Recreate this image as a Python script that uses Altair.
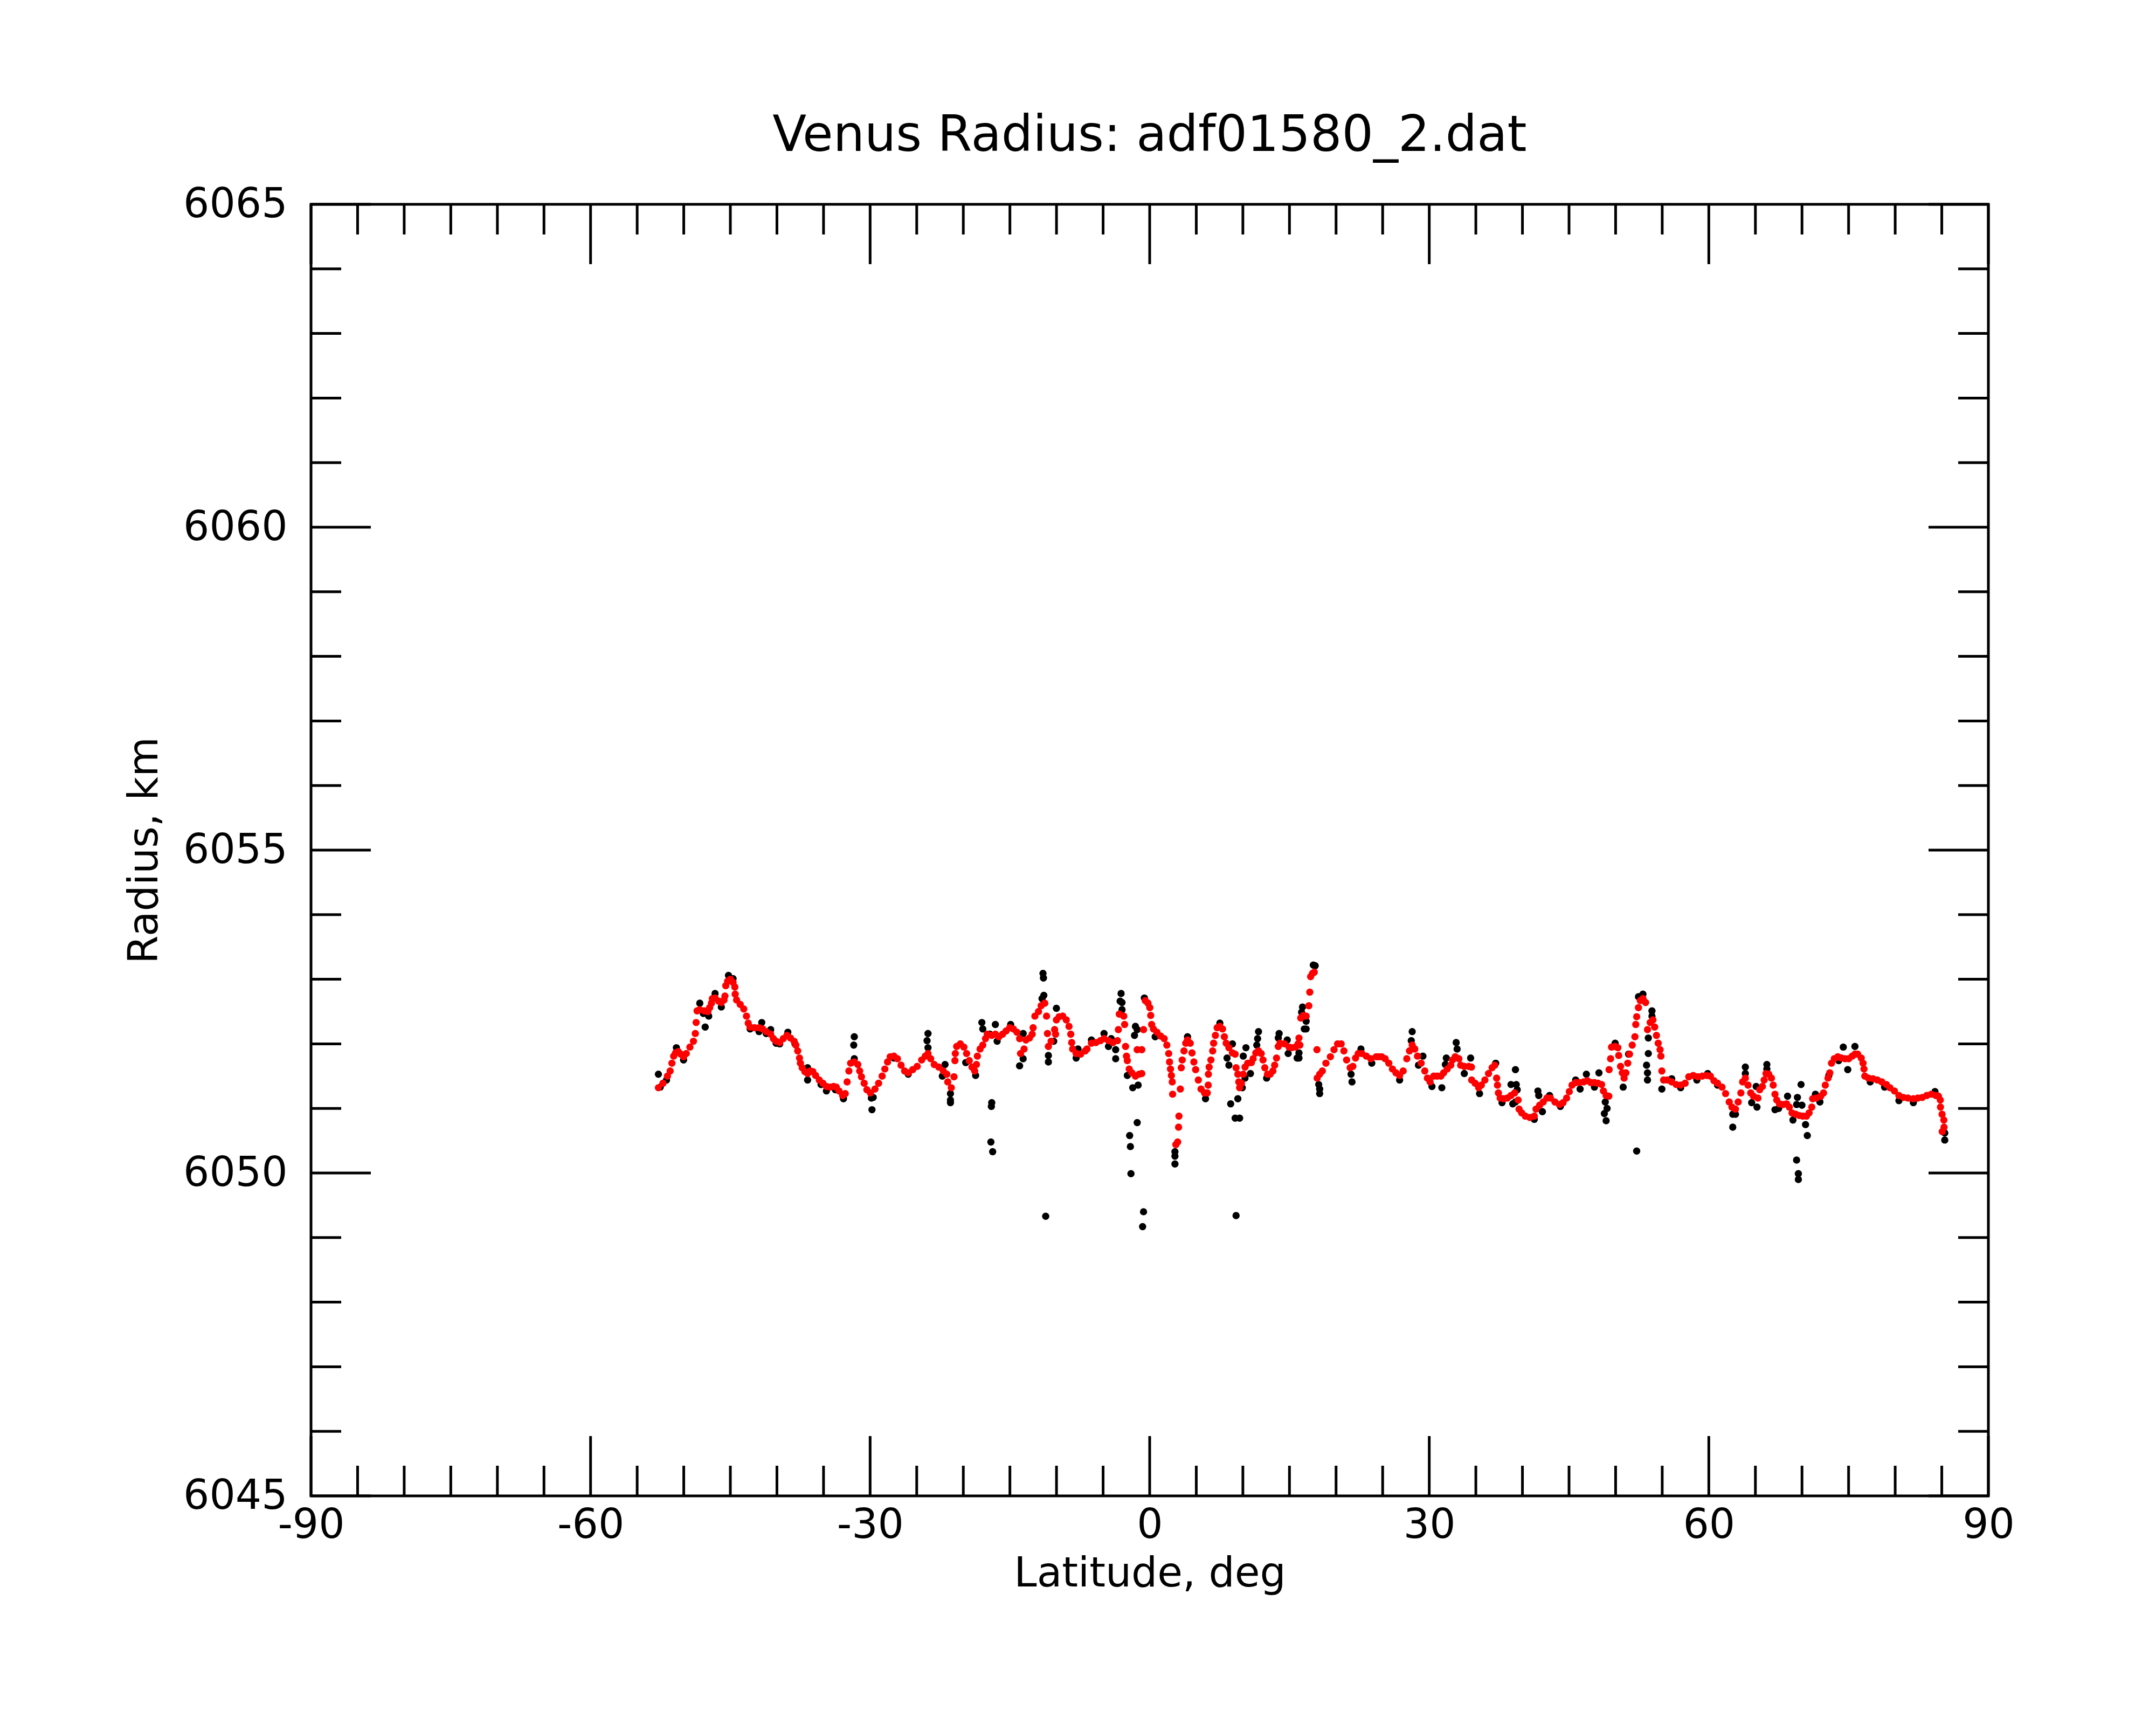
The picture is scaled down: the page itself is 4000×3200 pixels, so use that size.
import altair as alt
import pandas as pd

title_text = "Venus Radius: adf01580_2.dat"
x_title = "Latitude, deg"
y_title = "Radius, km"

x_major = [-90, -60, -30, 0, 30, 60, 90]
x_minor = [-85, -80, -75, -70, -65, -55, -50, -45, -40, -35, -25, -20, -15, -10, -5,
           5, 10, 15, 20, 25, 35, 40, 45, 50, 55, 65, 70, 75, 80, 85]
y_major = [6045, 6050, 6055, 6060, 6065]
y_minor = [6046, 6047, 6048, 6049, 6051, 6052, 6053, 6054, 6056, 6057, 6058, 6059,
           6061, 6062, 6063, 6064]

# fitted (red) radius samples, (latitude, radius)
red_s1 = [(-52.72,6051.32),(-52.23,6051.39),(-51.75,6051.50),(-51.46,6051.58),(-51.27,6051.70),(-51.08,6051.81),
          (-50.88,6051.86),(-50.59,6051.88),(-50.31,6051.84),(-50.02,6051.80),(-49.73,6051.85),(-49.34,6051.95),
          (-48.96,6052.04),(-48.76,6052.16),(-48.67,6052.33),(-48.57,6052.51),(-48.28,6052.53),(-47.80,6052.51),
          (-47.41,6052.50),(-47.22,6052.56),(-47.03,6052.63),(-46.93,6052.70),(-46.64,6052.71),(-46.26,6052.66),
          (-45.97,6052.64),(-45.68,6052.68),(-45.58,6052.74),(-45.49,6052.90),(-45.29,6052.97),(-45.00,6053.00),
          (-44.71,6052.95),(-44.52,6052.88),(-44.48,6052.77),(-44.33,6052.68),(-43.94,6052.61),(-43.56,6052.54),
          (-43.27,6052.43),(-43.08,6052.32),(-42.88,6052.26),(-42.40,6052.25),(-41.92,6052.25),(-41.53,6052.23),
          (-41.15,6052.19),(-40.67,6052.15),(-40.38,6052.08),(-40.09,6052.04),(-39.70,6052.02),(-39.32,6052.08),
          (-38.93,6052.13),(-38.55,6052.09),(-38.16,6052.04),(-37.97,6051.98),(-37.77,6051.89),(-37.58,6051.78),
          (-37.48,6051.70),(-37.29,6051.63),(-37.00,6051.57),(-36.71,6051.54),(-36.42,6051.58),(-36.14,6051.57),
          (-35.85,6051.51),(-35.46,6051.44),(-35.07,6051.39),(-34.69,6051.34),(-34.30,6051.33),(-33.92,6051.34),
          (-33.63,6051.33),(-33.34,6051.27),(-32.95,6051.20),(-32.67,6051.23),(-32.47,6051.41),(-32.28,6051.58),
          (-32.09,6051.70),(-31.70,6051.72),(-31.32,6051.68),(-31.12,6051.58),(-30.93,6051.49),(-30.64,6051.39),
          (-30.35,6051.29),(-29.97,6051.24)]
red_s2 = [(-29.48,6051.30),(-29.09,6051.39),(-28.71,6051.50),(-28.42,6051.61),(-28.13,6051.72),(-27.84,6051.80),
          (-27.45,6051.81),(-27.07,6051.77),(-26.68,6051.67),(-26.30,6051.58),(-25.91,6051.55),(-25.43,6051.60),
          (-24.95,6051.65),(-24.47,6051.75),(-24.08,6051.81),(-23.79,6051.85),(-23.50,6051.77),(-23.12,6051.68),
          (-22.63,6051.64),(-22.15,6051.58),(-21.77,6051.53),(-21.67,6051.41),(-21.29,6051.32),(-21.00,6051.49),
          (-20.90,6051.74),(-20.86,6051.85),(-20.71,6051.96),(-20.32,6052.00),(-19.94,6051.95),(-19.65,6051.85),
          (-19.36,6051.74),(-19.07,6051.64),(-18.78,6051.58),(-18.59,6051.68),(-18.49,6051.81),(-18.20,6051.92),
          (-17.91,6051.98),(-17.62,6052.08),(-17.43,6052.15),(-16.95,6052.13),(-16.56,6052.15),(-16.18,6052.11),
          (-15.79,6052.15),(-15.41,6052.20),(-15.02,6052.25),(-14.63,6052.23),(-14.25,6052.18),(-13.96,6052.08),
          (-13.86,6051.85),(-13.48,6051.92),(-13.28,6052.06),(-12.90,6052.09),(-12.61,6052.15),(-12.51,6052.25),
          (-12.32,6052.43),(-11.93,6052.50),(-11.65,6052.59),(-11.26,6052.63),(-11.07,6052.43),(-10.97,6052.16),
          (-10.87,6051.96),(-10.58,6052.04),(-10.20,6052.22),(-10.10,6052.15),(-10.01,6052.37),(-9.72,6052.42),
          (-9.33,6052.43),(-8.95,6052.37),(-8.66,6052.27),(-8.47,6052.15),(-8.37,6052.02),(-8.27,6051.92),
          (-7.89,6051.85),(-7.41,6051.84),(-6.92,6051.89)]
red_s3 = [(-6.73,6051.92),(-6.25,6052.01),(-5.77,6052.02),(-5.29,6052.05),(-4.90,6052.08),(-4.42,6052.05),
          (-3.94,6052.02),(-3.46,6052.05),(-3.36,6052.22),(-3.26,6052.46),(-2.78,6052.43),(-2.69,6052.30),
          (-2.59,6051.96),(-2.49,6051.81),(-2.40,6051.74),(-2.20,6051.61),(-1.91,6051.55),(-1.53,6051.50),
          (-1.14,6051.53),(-0.85,6051.54),(-1.34,6051.91),(-0.85,6051.91),(-0.66,6052.22),(-0.47,6052.67),
          (-0.18,6052.63),(0.01,6052.56),(0.11,6052.44),(0.21,6052.30),(0.40,6052.23),(0.78,6052.18),
          (1.17,6052.12),(1.56,6052.08),(1.84,6051.98),(2.04,6051.85),(2.13,6051.72),(2.23,6051.61),
          (2.33,6051.51),(2.42,6051.41),(2.46,6051.22),(2.81,6050.44),(3.00,6050.48),(3.10,6050.71),
          (3.14,6050.88),(3.29,6051.30),(3.39,6051.63),(3.49,6051.75),(3.68,6051.89),(3.87,6052.01),
          (4.06,6052.06),(4.35,6052.01),(4.54,6051.86),(4.74,6051.72),(4.93,6051.60),(5.22,6051.44),
          (5.51,6051.30),(5.89,6051.24),(6.18,6051.24),(6.28,6051.36),(6.30,6051.53),(6.38,6051.64),
          (6.57,6051.75),(6.76,6051.89),(6.86,6052.01),(7.05,6052.13),(7.24,6052.25),(7.53,6052.27),
          (7.82,6052.23),(8.01,6052.11),(8.21,6052.01),(8.50,6051.94),(8.88,6051.86),(9.17,6051.84),
          (9.27,6051.63),(9.46,6051.53),(9.56,6051.41),(9.65,6051.32),(9.85,6051.39),(10.04,6051.53),
          (10.23,6051.64),(10.52,6051.70),(10.91,6051.71),(11.10,6051.77),(11.39,6051.86),(11.68,6051.89),
          (11.97,6051.85),(12.16,6051.75),(12.35,6051.63),(12.64,6051.53),(12.93,6051.53),(13.22,6051.58),
          (13.41,6051.67),(13.61,6051.78),(13.80,6051.96),(13.99,6052.01),(14.47,6052.00),(14.95,6051.95),
          (15.24,6051.94),(15.63,6051.95),(15.92,6052.00)]
red_s4 = [(16.02,6052.09),(16.12,6051.98),(16.21,6052.40),(16.50,6052.44),(16.79,6052.43),(17.08,6052.59),
          (17.18,6052.80),(17.27,6053.04),(17.47,6053.09),(17.66,6053.11),(17.95,6051.91),(17.97,6051.47),
          (18.24,6051.53),(18.53,6051.58),(18.91,6051.70),(19.39,6051.80),(19.78,6051.91),(20.16,6052.00),
          (20.55,6052.00),(20.84,6051.89),(21.13,6051.75),(21.51,6051.63),(21.80,6051.65),(22.09,6051.78),
          (22.38,6051.85),(22.77,6051.85),(23.25,6051.81),(23.73,6051.77),(24.31,6051.80),(24.60,6051.80),
          (24.89,6051.80),(25.27,6051.77),(25.66,6051.70),(26.05,6051.61),(26.43,6051.55),(26.82,6051.51),
          (27.20,6051.58),(27.59,6051.77),(27.88,6051.89),(28.17,6051.98),(28.45,6051.92),(28.74,6051.81),
          (29.13,6051.70),(29.52,6051.58),(29.80,6051.47),(30.09,6051.41),(30.48,6051.50),(30.86,6051.50),
          (31.25,6051.50),(31.54,6051.55),(31.93,6051.61),(32.31,6051.67),(32.50,6051.75),(32.79,6051.80),
          (33.18,6051.77),(33.37,6051.67),(33.76,6051.65),(34.24,6051.65),(34.53,6051.64),(34.55,6051.44),
          (34.92,6051.39),(35.30,6051.32),(35.59,6051.36),(35.97,6051.44),(36.36,6051.54),(36.74,6051.63),
          (37.03,6051.67),(37.23,6051.47),(37.32,6051.36),(37.42,6051.24),(37.61,6051.16),(38.00,6051.15),
          (38.38,6051.16),(38.77,6051.20),(39.16,6051.24),(39.54,6051.13),(39.64,6050.99)]
red_s5 = [(39.92,6050.93),(40.31,6050.88),(40.79,6050.86),(41.27,6050.88),(41.46,6050.99),(41.85,6051.05),
          (42.23,6051.10),(42.62,6051.16),(43.01,6051.16),(43.49,6051.10),(43.97,6051.06),(44.36,6051.09),
          (44.74,6051.16),(45.03,6051.26),(45.32,6051.36),(45.71,6051.40),(46.09,6051.40),(46.57,6051.41),
          (46.96,6051.43),(47.34,6051.40),(47.73,6051.40),(48.11,6051.39),(48.50,6051.37),(48.69,6051.27),
          (48.98,6051.20),(49.27,6051.19),(49.30,6051.60),(49.46,6051.77),(49.56,6051.95),(49.95,6051.96),
          (50.24,6051.94),(50.33,6051.82),(50.53,6051.65),(50.72,6051.55),(50.91,6051.47),(51.10,6051.55),
          (51.30,6051.70),(51.49,6051.84),(51.78,6051.98),(52.07,6052.11),(52.16,6052.30),(52.26,6052.42),
          (52.45,6052.56),(52.65,6052.67),(52.93,6052.70),(53.22,6052.64),(53.42,6052.22),(53.71,6052.33),
          (54.00,6052.37),(54.19,6052.26),(54.38,6052.13),(54.57,6052.01),(54.77,6051.91),(54.86,6051.81),
          (54.96,6051.58),(55.15,6051.44),(55.54,6051.44),(56.02,6051.41),(56.50,6051.37),(56.98,6051.36),
          (57.46,6051.39),(57.85,6051.49),(58.33,6051.51),(58.81,6051.49),(59.30,6051.50),(59.78,6051.51),
          (60.16,6051.50),(60.55,6051.43),(60.94,6051.39),(61.42,6051.33),(61.80,6051.23),(62.19,6051.10),
          (62.48,6051.02),(62.86,6050.99),(63.15,6051.10)]
red_s6 = [(63.44,6051.24),(63.63,6051.41),(63.92,6051.47),(64.21,6051.36),(64.50,6051.24),(64.79,6051.19),
          (65.27,6051.16),(65.46,6051.29),(65.75,6051.34),(65.94,6051.44),(66.14,6051.54),(66.43,6051.53),
          (66.72,6051.47),(66.91,6051.36),(67.10,6051.22),(67.29,6051.13),(67.58,6051.07),(67.97,6051.06),
          (68.35,6051.07),(68.64,6051.02),(68.93,6050.93),(69.32,6050.91),(69.70,6050.89),(70.09,6050.88),
          (70.48,6050.88),(70.76,6050.93),(71.05,6051.02),(71.15,6051.15),(71.54,6051.16),(72.02,6051.19),
          (72.31,6051.24),(72.50,6051.36),(72.79,6051.47),(72.98,6051.55),(73.17,6051.70),(73.46,6051.77),
          (73.85,6051.80),(74.23,6051.78),(74.62,6051.77),(75.01,6051.77),(75.39,6051.81),(75.68,6051.84),
          (75.97,6051.84),(76.36,6051.78),(76.55,6051.70),(76.65,6051.61),(76.74,6051.50),(77.13,6051.47),
          (77.61,6051.46),(78.09,6051.44),(78.57,6051.41),(79.05,6051.37),(79.44,6051.32),(79.92,6051.27),
          (80.40,6051.20),(80.89,6051.17),(81.37,6051.16),(81.95,6051.15),(82.43,6051.16),(82.91,6051.17),
          (83.39,6051.20),(83.87,6051.22),(84.36,6051.20),(84.64,6051.19),(84.84,6051.13),(84.86,6051.02),
          (85.03,6050.91),(85.22,6050.82),(85.24,6050.71),(85.05,6050.64)]

# raw (black) radius samples visible around the fit, (latitude, radius)
black_s1 = [(-52.72,6051.53),(-52.52,6051.33),(-51.85,6051.44),(-50.79,6051.94),(-50.02,6051.75),(-48.28,6052.63),
            (-47.90,6052.47),(-47.32,6052.43),(-47.70,6052.26),(-46.64,6052.78),(-45.97,6052.57),(-45.20,6053.06),
            (-44.71,6053.01),(-42.88,6052.23),(-41.92,6052.19),(-41.63,6052.33),(-41.15,6052.16),(-40.67,6052.22),
            (-40.09,6052.01),(-39.70,6052.00),(-38.83,6052.18),(-38.06,6052.00),(-36.71,6051.63),(-36.71,6051.44),
            (-35.27,6051.37),(-34.69,6051.27),(-33.73,6051.29),(-32.86,6051.15),(-31.70,6052.11),(-31.76,6051.98),
            (-31.70,6051.77),(-29.87,6051.16),(-29.80,6050.98)]
black_s2 = [(-29.67,6051.17),(-27.45,6051.78),(-25.91,6051.53),(-23.79,6052.16),(-23.89,6052.05),(-23.79,6051.94),
            (-21.96,6051.68),(-22.25,6051.50),(-21.38,6051.23),(-21.38,6051.13),(-21.38,6051.09),(-19.74,6051.71),
            (-18.68,6051.51),(-18.01,6052.33),(-17.91,6052.23),(-17.14,6052.15),(-16.56,6052.30),(-16.37,6052.04),
            (-14.92,6052.30),(-13.58,6052.16),(-13.96,6051.66),(-13.58,6051.77),(-16.95,6051.09),(-16.99,6051.03),
            (-17.04,6050.48),(-16.85,6050.33),(-11.45,6053.09),(-11.40,6053.02),(-11.36,6052.75),(-11.55,6052.70),
            (-10.01,6052.55),(-10.87,6051.82),(-10.87,6051.72),(-10.30,6052.04),(-11.16,6049.33),(-7.89,6051.78),
            (-7.69,6051.92)]
black_s3 = [(-6.25,6052.06),(-4.90,6052.16),(-4.13,6052.08),(-4.42,6051.96),(-3.65,6051.91),(-3.65,6051.77),
            (-3.07,6052.78),(-3.17,6052.66),(-2.97,6052.64),(-2.97,6052.53),(-1.53,6052.27),(-1.63,6052.13),
            (-1.34,6052.22),(-2.40,6051.51),(-1.82,6051.32),(-1.24,6051.36),(-1.34,6050.78),(-2.15,6050.58),
            (-2.07,6050.41),(-2.01,6049.99),(-0.66,6049.40),(-0.76,6049.17),(-0.57,6052.71),(0.59,6052.11),
            (2.71,6050.33),(2.71,6050.26),(2.71,6050.14),(4.06,6052.11),(5.99,6051.15),(7.53,6052.32),
            (8.69,6051.07),(9.46,6051.15),(9.17,6050.85),(9.65,6050.85),(9.27,6049.34),(8.88,6052.00),
            (8.50,6051.67),(8.30,6051.78),(10.33,6051.94),(10.04,6051.81),(10.81,6051.54),(10.23,6051.47),
            (9.94,6051.32),(11.68,6052.19),(11.58,6052.08),(11.49,6051.98),(13.89,6052.16),(13.80,6052.09),
            (14.76,6052.06),(14.86,6051.85),(15.82,6051.78),(16.40,6052.57),(16.30,6052.49),(16.59,6052.23),
            (12.55,6051.47)]
black_s4 = [(17.56,6053.22),(17.76,6053.21),(16.79,6052.35),(16.79,6052.23),(16.02,6051.86),(16.02,6051.78),
            (18.14,6051.37),(18.24,6051.30),(18.24,6051.23),(21.71,6051.41),(21.61,6051.53),(22.67,6051.92),
            (23.83,6051.70),(28.17,6052.19),(28.07,6052.05),(28.84,6051.67),(29.32,6051.81),(32.89,6052.02),
            (32.99,6051.92),(31.83,6051.78),(31.73,6051.68),(34.44,6051.78),(33.76,6051.54),(31.35,6051.32),
            (30.29,6051.34),(26.82,6051.44),(39.25,6051.60),(38.77,6051.37),(38.96,6051.07),(37.13,6051.70),
            (37.81,6051.09),(35.40,6051.23)]
black_s5 = [(39.34,6051.37),(39.44,6051.29),(39.25,6051.10),(41.27,6050.83),(41.66,6051.27),(41.75,6051.20),
            (42.14,6050.95),(42.91,6051.20),(44.07,6051.03),(45.71,6051.44),(46.19,6051.30),(46.86,6051.53),
            (48.21,6051.55),(47.73,6051.33),(48.89,6051.10),(49.08,6051.00),(48.79,6050.92),(48.98,6050.81),
            (49.95,6052.01),(50.81,6051.33),(52.26,6050.34),(52.45,6052.73),(52.93,6052.77),(53.51,6052.09),
            (53.51,6051.85),(53.32,6051.67),(53.42,6051.55),(53.42,6051.44),(53.90,6052.51),(53.90,6052.43),
            (54.96,6051.30),(51.39,6051.84),(56.02,6051.46),(56.98,6051.32),(58.72,6051.44),(59.88,6051.54),
            (60.94,6051.36),(62.57,6050.91),(62.57,6050.71)]
black_s6 = [(62.86,6050.91),(63.92,6051.64),(63.92,6051.54),(65.08,6051.34),(65.17,6051.02),(64.60,6051.09),
            (66.23,6051.68),(66.23,6051.61),(67.10,6050.98),(67.49,6051.00),(68.45,6051.19),(69.03,6050.82),
            (69.90,6051.37),(69.51,6051.17),(69.42,6051.06),(69.99,6051.05),(70.38,6050.75),(70.57,6050.58),
            (69.42,6050.20),(69.61,6049.99),(69.61,6049.90),(71.44,6051.22),(71.92,6051.10),(72.88,6051.51),
            (74.43,6051.95),(75.68,6051.96),(74.91,6051.60),(73.94,6051.74),(77.32,6051.41),(78.86,6051.33),
            (80.40,6051.12),(81.95,6051.09),(84.27,6051.26),(85.32,6050.51),(85.32,6050.62)]

red_pts = red_s1 + red_s2 + red_s3 + red_s4 + red_s5 + red_s6
black_pts = black_s1 + black_s2 + black_s3 + black_s4 + black_s5 + black_s6
df_red = pd.DataFrame(red_pts, columns=["lat", "r"])
df_black = pd.DataFrame(black_pts, columns=["lat", "r"])

W, H = 3112, 2396
FONT = "DejaVu Sans"
MAJ, MIN = 111, 56
SW = 5
DOT = 180

xs = alt.Scale(domain=[-90, 90], nice=False, zero=False)
ys = alt.Scale(domain=[6045, 6065], nice=False, zero=False)

x_axis = alt.Axis(values=x_major, labelExpr="'' + datum.value", title=x_title,
                  labelPadding=17, tickSize=0, ticks=False, domain=False, grid=False,
                  labelFlush=False, labelOverlap=False, labelBound=False, labelLimit=0,
                  labelFont=FONT, labelFontSize=76, labelColor="black",
                  titleFont=FONT, titleFontSize=76, titleFontWeight="normal", titleColor="black",
                  titleX=W / 2, titleY=167, titleBaseline="alphabetic", titleAlign="center",
                  titleLimit=0)
y_axis = alt.Axis(values=y_major, labelExpr="'' + datum.value", title=y_title,
                  labelPadding=44, tickSize=0, ticks=False, domain=False, grid=False,
                  labelFlush=False, labelOverlap=False, labelBound=False, labelLimit=0,
                  labelFont=FONT, labelFontSize=76, labelColor="black",
                  titleFont=FONT, titleFontSize=76, titleFontWeight="normal", titleColor="black",
                  titleAngle=270, titleX=-286, titleY=H / 2, titleBaseline="alphabetic",
                  titleAlign="center", titleLimit=0)

X = dict(scale=xs, axis=x_axis)
Y = dict(scale=ys, axis=y_axis)

black_layer = alt.Chart(df_black).mark_circle(size=DOT, color="black", opacity=1).encode(
    x=alt.X("lat:Q", **X), y=alt.Y("r:Q", **Y))
red_layer = alt.Chart(df_red).mark_circle(size=DOT, color="#ff0000", opacity=1).encode(
    x=alt.X("lat:Q", **X), y=alt.Y("r:Q", **Y))


def xticks(vals, y0, y1):
    return alt.Chart(pd.DataFrame({"lat": vals})).mark_rule(color="black", strokeWidth=SW).encode(
        x=alt.X("lat:Q", **X), y=alt.value(y0), y2=alt.value(y1))


def yticks(vals, x0, x1):
    return alt.Chart(pd.DataFrame({"r": vals})).mark_rule(color="black", strokeWidth=SW).encode(
        y=alt.Y("r:Q", **Y), x=alt.value(x0), x2=alt.value(x1))


tick_layers = [
    xticks(x_major, H, H - MAJ), xticks(x_minor, H, H - MIN),
    xticks(x_major, 0, MAJ), xticks(x_minor, 0, MIN),
    yticks(y_major, 0, MAJ), yticks(y_minor, 0, MIN),
    yticks(y_major, W, W - MAJ), yticks(y_minor, W, W - MIN),
]

title_layer = alt.Chart(pd.DataFrame({"t": [title_text]})).mark_text(
    font=FONT, fontSize=92, color="black", align="center", baseline="alphabetic"
).encode(text="t:N", x=alt.value(W / 2), y=alt.value(-99))

chart = alt.layer(black_layer, red_layer, *tick_layers, title_layer).properties(
    width=W, height=H,
    autosize=alt.AutoSizeParams(type="none"),
    padding={"left": 569, "top": 371, "right": 303, "bottom": 417},
).configure_view(
    stroke="black", strokeWidth=SW
)

chart.save("out.html", embed_options={"renderer": "svg", "actions": False})
